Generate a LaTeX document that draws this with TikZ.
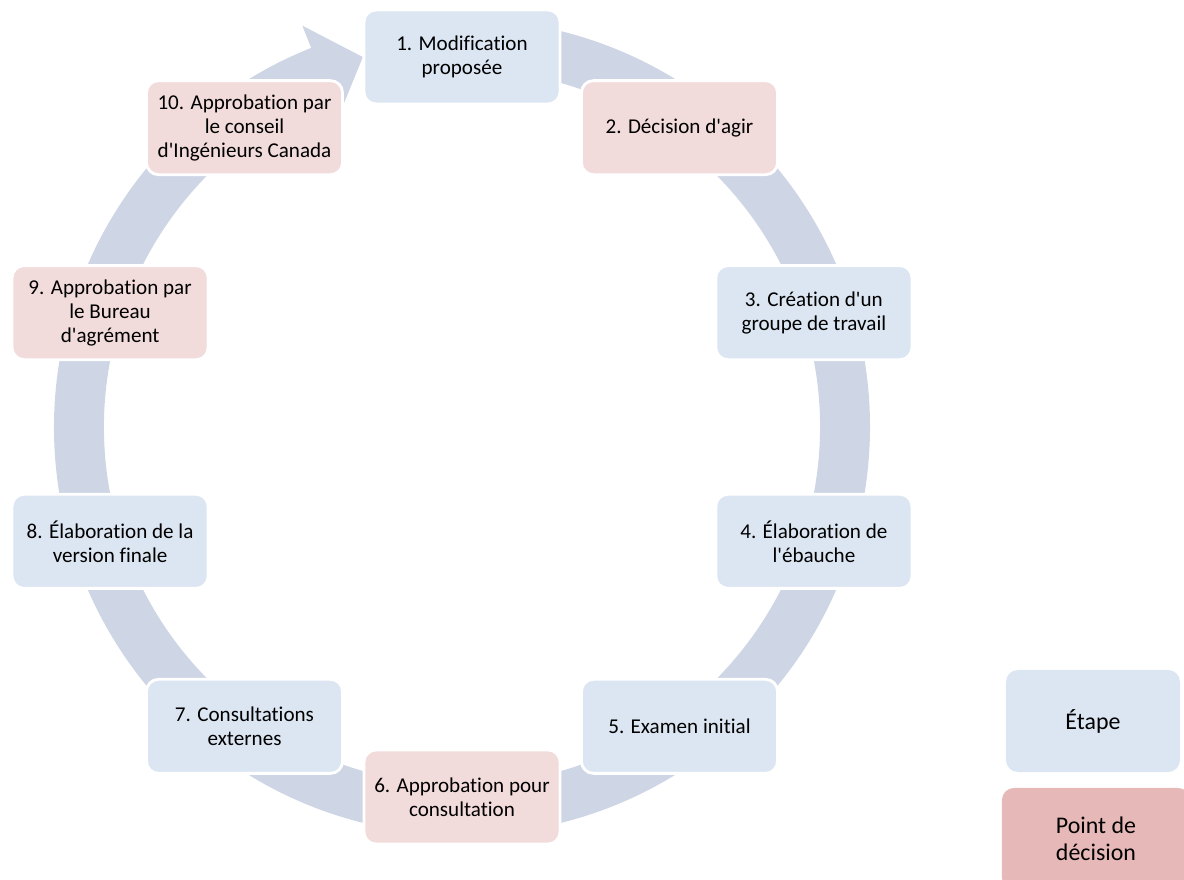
\documentclass[tikz,border=0pt]{standalone}
\usepackage{fontspec}
\setmainfont{Carlito}[Ligatures={TeXOff,NoCommon}]
\usepackage{xcolor}
\usepackage{tikz}

\definecolor{etapebleu}{RGB}{220,230,242}
\definecolor{decisionrose}{RGB}{242,220,219}
\definecolor{legenderose}{RGB}{230,185,184}
\definecolor{anneau}{RGB}{206,214,229}

\begin{document}
\begin{tikzpicture}[x=0.025cm, y=0.025cm,
  etape/.style={draw=white, line width=2pt, fill=etapebleu, rounded corners=0.3cm,
    minimum width=4.9cm, minimum height=2.35cm, align=center,
    font=\fontsize{15}{17}\selectfont},
  decision/.style={etape, fill=decisionrose},
  legende/.style={etape, draw=none, minimum height=2.55cm,
    font=\fontsize{17}{19.5}\selectfont}]
\useasboundingbox (-462,-453) rectangle (722,427);
\clip (-462,-453) rectangle (722,427);
\coordinate (centre) at (0,0);

% the ring with its arrow head back to step 1
\fill [anneau] ([shift={(85:408)}]centre) arc [start angle=85, end angle=-248.3, radius=408]
  -- ([shift={(111.7:432)}]centre) -- ([shift={(105:383)}]centre)
  -- ([shift={(111.7:334)}]centre) -- ([shift={(111.7:358)}]centre)
  arc [start angle=-248.3, end angle=85, radius=358] -- cycle;

\node [etape] (e1) at ([shift={(90:370)}]centre) {1. Modification\\proposée};
\node [decision] (e2) at ([shift={(54:370)}]centre) {2. Décision d'agir};
\node [etape] (e3) at ([shift={(18:370)}]centre) {3. Création d'un\\groupe de travail};
\node [etape] (e4) at ([shift={(-18:370)}]centre) {4. Élaboration de\\l'ébauche};
\node [etape] (e5) at ([shift={(-54:370)}]centre) {5. Examen initial};
\node [decision] (e6) at ([shift={(-90:370)}]centre) {6. Approbation pour\\consultation};
\node [etape] (e7) at ([shift={(-126:370)}]centre) {7. Consultations\\externes};
\node [etape] (e8) at ([shift={(-162:370)}]centre) {8. Élaboration de la\\version finale};
\node [decision] (e9) at ([shift={(162:370)}]centre) {9. Approbation par\\le Bureau\\d'agrément};
\node [decision] (e10) at ([shift={(126:370)}]centre) {10. Approbation par\\le conseil\\d'Ingénieurs Canada};

% legend
\node [legende, minimum width=4.35cm] (legetape)
  at ([shift={(631,-294)}]centre) {Étape};
\node [legende, fill=legenderose, minimum width=4.7cm] (legdecision)
  at ([shift={(634,-412)}]centre) {Point de\\décision};
\end{tikzpicture}
\end{document}
